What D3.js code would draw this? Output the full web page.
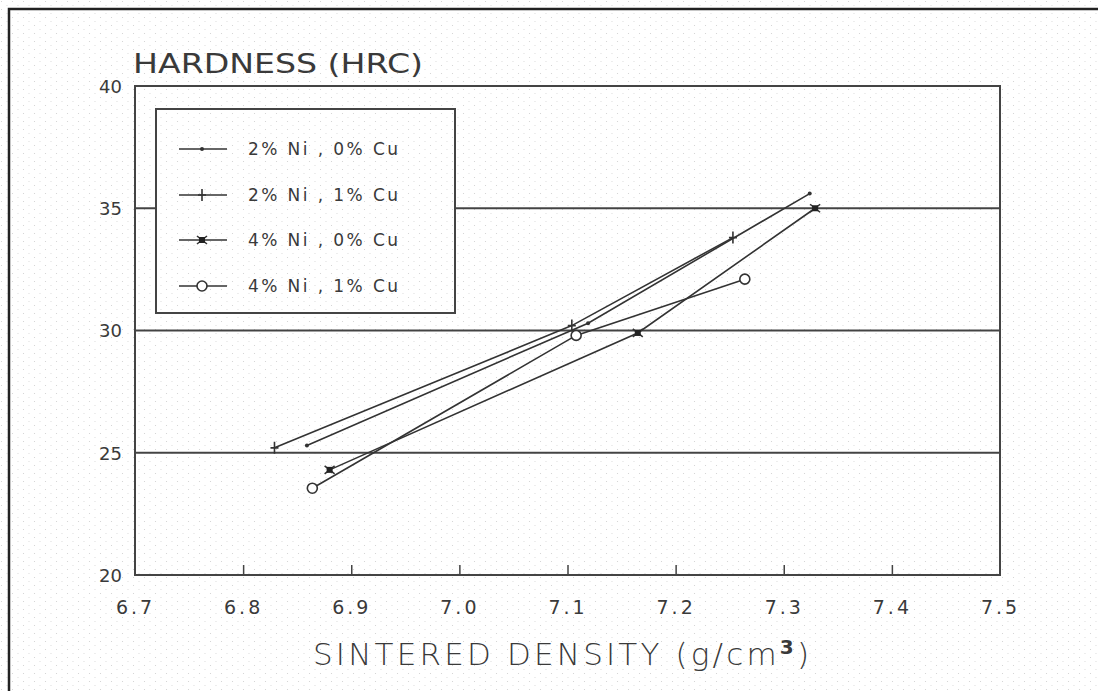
<!DOCTYPE html>
<html>
<head>
<meta charset="utf-8">
<script src="https://cdn.jsdelivr.net/npm/d3@7"></script>
<style>
  html, body { margin: 0; padding: 0; background: #fff; }
  svg { display: block; }
  text { font-family: "DejaVu Sans", sans-serif; fill: #3a3a3a; }
</style>
</head>
<body>
<svg id="chart" width="1098" height="691"></svg>
<script>
// ---- data ----
const seriesNames = ["2% Ni , 0% Cu", "2% Ni , 1% Cu", "4% Ni , 0% Cu", "4% Ni , 1% Cu"];
const markerTypes = ["dot", "plus", "bowtie", "circle"];
const densityS1 = [6.859, 7.119, 7.324];
const hardnessS1 = [25.3, 30.3, 35.6];
const densityS2 = [6.829, 7.104, 7.253];
const hardnessS2 = [25.2, 30.2, 33.8];
const densityS3 = [6.880, 7.165, 7.329];
const hardnessS3 = [24.3, 29.9, 35.0];
const densityS4 = [6.864, 7.108, 7.264];
const hardnessS4 = [23.55, 29.8, 32.1];
const xTicks = [6.7, 6.8, 6.9, 7.0, 7.1, 7.2, 7.3, 7.4, 7.5];
const yTicks = [20, 25, 30, 35, 40];
const gridValues = [25, 30, 35];
const yTitle = "HARDNESS (HRC)";
const xTitleMain = "SINTERED DENSITY (g/cm";
const xTitleSup = "3";

const series = [
  {name: seriesNames[0], marker: markerTypes[0], pts: densityS1.map((d, i) => [d, hardnessS1[i]])},
  {name: seriesNames[1], marker: markerTypes[1], pts: densityS2.map((d, i) => [d, hardnessS2[i]])},
  {name: seriesNames[2], marker: markerTypes[2], pts: densityS3.map((d, i) => [d, hardnessS3[i]])},
  {name: seriesNames[3], marker: markerTypes[3], pts: densityS4.map((d, i) => [d, hardnessS4[i]])}
];

const svg = d3.select("#chart");
const ink = "#333";

// background speckle texture
const defs = svg.append("defs");
const pat = defs.append("pattern").attr("id", "speckle").attr("width", 11).attr("height", 8)
  .attr("patternUnits", "userSpaceOnUse");
pat.append("circle").attr("cx", 1.5).attr("cy", 1.5).attr("r", 0.6).attr("fill", "#cfcfcf");
pat.append("circle").attr("cx", 7).attr("cy", 5.5).attr("r", 0.6).attr("fill", "#d8d8d8");
svg.append("rect").attr("width", 1098).attr("height", 691).attr("fill", "#fff");
svg.append("rect").attr("width", 1098).attr("height", 691).attr("fill", "url(#speckle)");

// page frame (left and top border)
svg.append("path").attr("d", "M9,691V9H1098").attr("fill", "none").attr("stroke", "#222").attr("stroke-width", 2.5);

const x = d3.scaleLinear().domain([6.7, 7.5]).range([135, 1000]);
const y = d3.scaleLinear().domain([20, 40]).range([575, 86]);

// gridlines
svg.append("g").selectAll("line").data(gridValues).join("line")
  .attr("x1", x.range()[0]).attr("x2", x.range()[1])
  .attr("y1", d => y(d)).attr("y2", d => y(d))
  .attr("stroke", "#444").attr("stroke-width", 1.8);

// x axis (ticks pointing inward)
const xAxis = svg.append("g").attr("transform", `translate(0,${y(20)})`)
  .call(d3.axisBottom(x).tickValues(xTicks).tickSize(-10).tickFormat(d3.format(".1f")));
xAxis.select(".domain").remove();
xAxis.selectAll(".tick line").attr("stroke", "#444").attr("stroke-width", 1.5)
  .filter(d => d === 6.7 || d === 7.5).remove();
xAxis.selectAll(".tick text").attr("y", 39).attr("dy", 0).attr("font-size", 19)
  .attr("letter-spacing", 3).attr("fill", "#3a3a3a").attr("font-family", "DejaVu Sans");

// y axis labels
const yAxis = svg.append("g").attr("transform", `translate(${x(6.7)},0)`)
  .call(d3.axisLeft(y).tickValues(yTicks).tickSize(0).tickPadding(13));
yAxis.select(".domain").remove();
yAxis.selectAll(".tick text").attr("dy", "0.68em").attr("y", -6).attr("font-size", 18)
  .attr("fill", "#3a3a3a").attr("font-family", "DejaVu Sans");

// plot frame
svg.append("rect").attr("x", x(6.7)).attr("y", y(40))
  .attr("width", x(7.5) - x(6.7)).attr("height", y(20) - y(40))
  .attr("fill", "none").attr("stroke", "#444").attr("stroke-width", 2);

// legend box
const lg = {x: 156, y: 109, w: 299, h: 204};
svg.append("rect").attr("x", lg.x).attr("y", lg.y).attr("width", lg.w).attr("height", lg.h).attr("fill", "#fff");
svg.append("rect").attr("x", lg.x).attr("y", lg.y).attr("width", lg.w).attr("height", lg.h)
  .attr("fill", "url(#speckle)").attr("stroke", "#444").attr("stroke-width", 2);

function drawMarker(g, type) {
  if (type === "dot") {
    g.append("circle").attr("r", 2).attr("fill", ink);
  } else if (type === "plus") {
    g.append("path").attr("d", "M0,-6V6M-4,0H4").attr("stroke", ink).attr("stroke-width", 1.6).attr("fill", "none");
  } else if (type === "bowtie") {
    g.append("path").attr("d", "M-5,-4L5,4M-5,4L5,-4").attr("stroke", ink).attr("stroke-width", 1.6);
    g.append("rect").attr("x", -3).attr("y", -3).attr("width", 6).attr("height", 6).attr("fill", "#222");
  } else if (type === "circle") {
    g.append("circle").attr("r", 5).attr("fill", "#fff").attr("stroke", ink).attr("stroke-width", 1.6);
  }
}

// legend entries
const rowY = [149, 195, 240, 286];
series.forEach((s, i) => {
  const ry = rowY[i];
  svg.append("line").attr("x1", 179).attr("x2", 227).attr("y1", ry).attr("y2", ry)
    .attr("stroke", ink).attr("stroke-width", 1.6);
  drawMarker(svg.append("g").attr("transform", `translate(202,${ry})`), s.marker);
  svg.append("text").attr("x", 248).attr("y", ry + 6).attr("font-size", 17)
    .attr("textLength", 150).attr("lengthAdjust", "spacing").attr("xml:space", "preserve")
    .style("white-space", "pre").text(s.name);
});

// series lines and markers
const line = d3.line().x(d => x(d[0])).y(d => y(d[1]));
series.forEach(s => {
  svg.append("path").datum(s.pts).attr("d", line).attr("fill", "none")
    .attr("stroke", ink).attr("stroke-width", 1.6);
});
series.forEach(s => {
  s.pts.forEach(p => {
    drawMarker(svg.append("g").attr("transform", `translate(${x(p[0])},${y(p[1])})`), s.marker);
  });
});

// titles
svg.append("text").attr("x", 133).attr("y", 73).attr("font-size", 27)
  .attr("textLength", 290).attr("lengthAdjust", "spacingAndGlyphs").text(yTitle);

const xt = svg.append("text").attr("x", 313).attr("y", 665).attr("font-size", 31)
  .attr("textLength", 496).attr("lengthAdjust", "spacing").attr("font-weight", 300);
xt.append("tspan").text(xTitleMain);
xt.append("tspan").attr("font-size", 20).attr("font-weight", "bold").attr("dy", -11).text(xTitleSup);
xt.append("tspan").attr("dy", 11).text(")");
</script>
</body>
</html>
